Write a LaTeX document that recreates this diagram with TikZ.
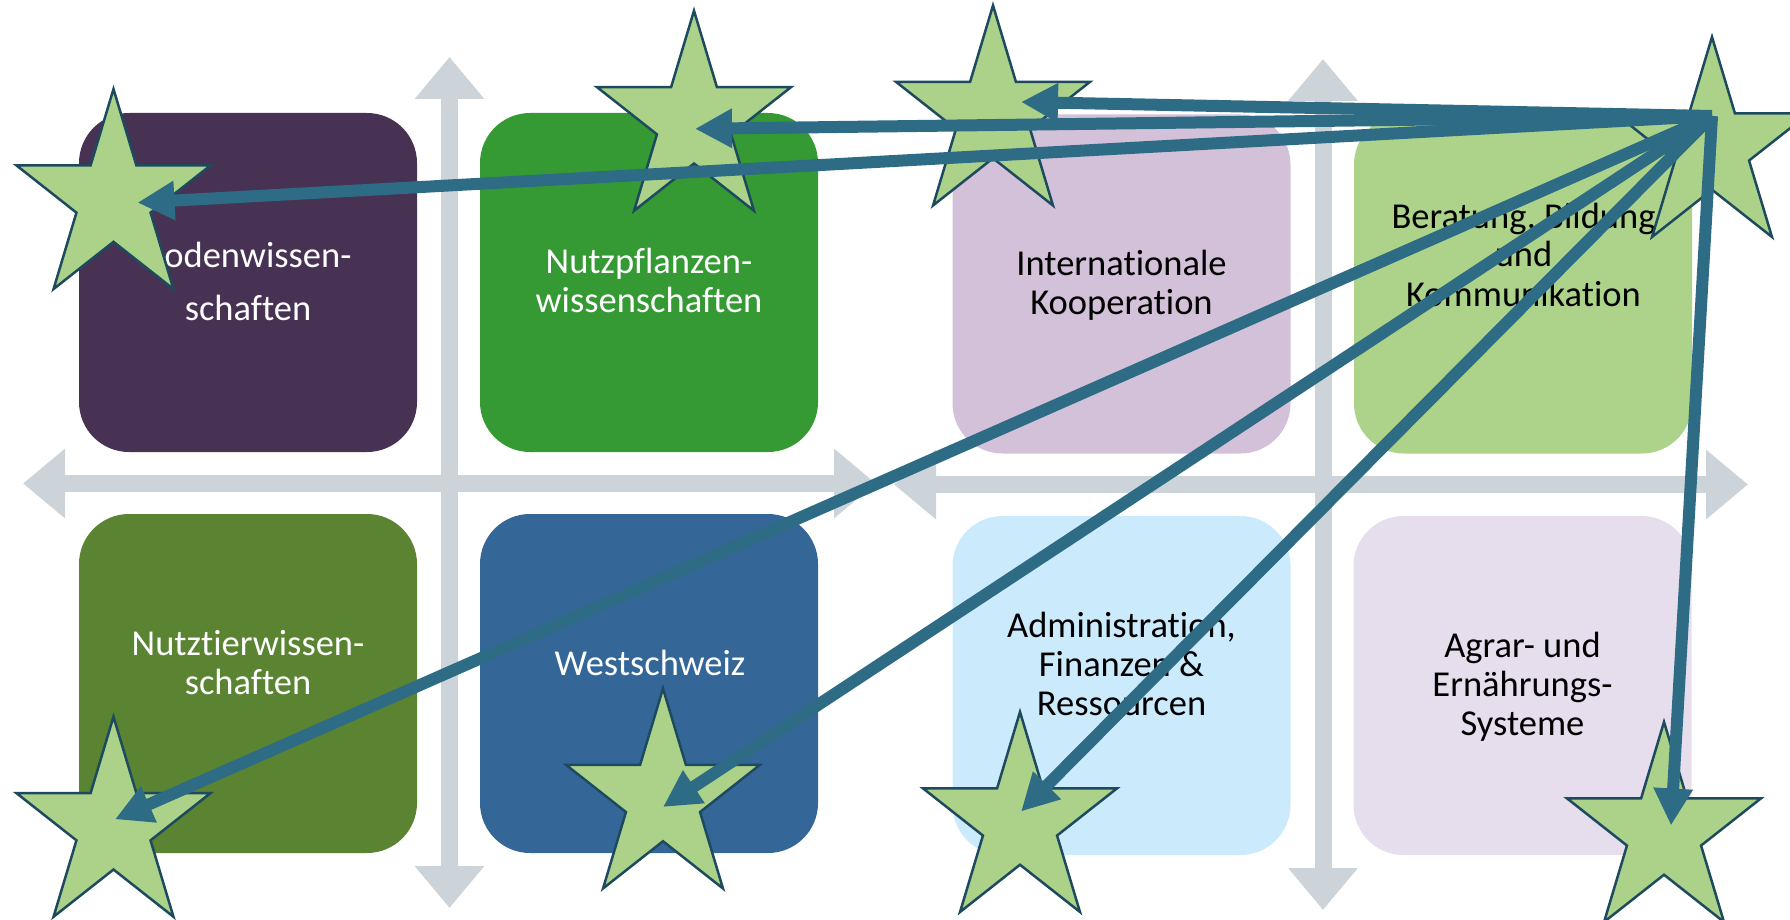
\documentclass[tikz,border=0pt]{standalone}
\usepackage{fontspec}
\setmainfont{Carlito}[Ligatures=NoCommon]
\usetikzlibrary{shapes.geometric,arrows.meta}

\definecolor{boxpurple}{HTML}{473253}
\definecolor{boxgreen}{HTML}{359A34}
\definecolor{boxlavender}{HTML}{D2C1D9}
\definecolor{boxlime}{HTML}{ADD38B}
\definecolor{boxolive}{HTML}{5A8332}
\definecolor{boxblue}{HTML}{346798}
\definecolor{boxsky}{HTML}{CBEBFD}
\definecolor{boxlilac}{HTML}{E6DEEC}
\definecolor{axisgray}{HTML}{CCD4DA}
\definecolor{linkteal}{HTML}{2E6B85}
\definecolor{starfill}{HTML}{ACD28A}
\definecolor{starline}{HTML}{1E4A60}

% multi-line label whose reference point is the first baseline
\newcommand\celltext[1]{\begin{tabular}[t]{@{}c@{}}#1\end{tabular}}

% a slightly upright-stretched five-pointed star node
\newcommand\placestar[2]{%
  \begin{scope}[shift={(#2)},yscale=1.084]
    \node[starnode,transform shape] (#1) at (0,0) {};
  \end{scope}}

\begin{document}
\begin{tikzpicture}[x=1pt,y=-1pt,
  axis/.style={draw=axisgray,line width=17pt,
    arrows={Triangle[length=42pt,width=67pt]-Triangle[length=42pt,width=67pt]}},
  field/.style={rounded corners=50pt,minimum width=338pt,minimum height=339pt,
    inner sep=0pt,draw=none},
  lbl/.style={anchor=base,inner sep=0pt,font=\fontsize{36.5}{39}\selectfont},
  starnode/.style={star,star points=5,star point ratio=2.618,minimum size=204pt,
    inner sep=0pt,fill=starfill,draw=starline,line width=2.5pt},
  link/.style={draw=linkteal,line width=12pt,
    -{Triangle[length=37pt,width=37pt]}}]
\useasboundingbox (0,0) rectangle (1790,920);
\clip (0,0) rectangle (1790,920);

% grid axes
\coordinate (v1t) at (449.5,57);   \coordinate (v1b) at (449.5,908);
\coordinate (v2t) at (1323,59);    \coordinate (v2b) at (1323,910);
\coordinate (h1l) at (23,483.5);   \coordinate (h1r) at (876,483.5);
\coordinate (h2l) at (894,484.5);  \coordinate (h2r) at (1748,484.5);
\draw[axis] (v1t) -- (v1b);
\draw[axis] (v2t) -- (v2b);
\draw[axis] (h1l) -- (h1r);
\draw[axis] (h2l) -- (h2r);

% fields
\node[field,fill=boxpurple]   (b1) at (248,282.5) {};
\node[field,fill=boxgreen]    (b2) at (649,282.5) {};
\node[field,fill=boxlavender] (b3) at (1121.5,284) {};
\node[field,fill=boxlime]     (b4) at (1523,284) {};
\node[field,fill=boxolive]    (b5) at (248,683.5) {};
\node[field,fill=boxblue]     (b6) at (649,683.5) {};
\node[field,fill=boxsky]      (b7) at (1121.5,685.5) {};
\node[field,fill=boxlilac]    (b8) at (1522.5,685.5) {};

% field names
\node[lbl,text=white] (t1) at (248,267) {\celltext{Bodenwissen-\\[14pt]schaften}};
\node[lbl,text=white] (t2) at (649,273) {\celltext{Nutzpflanzen-\\wissenschaften}};
\node[lbl]            (t3) at (1121.5,275) {\celltext{Internationale\\Kooperation}};
\node[lbl]            (t4) at (1523.5,228) {\celltext{Beratung, Bildung\\und\\Kommunikation}};
\node[lbl,text=white] (t5) at (248,655) {\celltext{Nutztierwissen-\\schaften}};
\node[lbl,text=white] (t6) at (650,675) {Westschweiz};
\node[lbl]            (t7) at (1121.5,637) {\celltext{Administration,\\Finanzen \&\\Ressourcen}};
\node[lbl]            (t8) at (1522.5,657) {\celltext{Agrar- und\\Ernährungs-\\Systeme}};

% stars
\placestar{s1}{113.5,199.6}
\placestar{s2}{694,121.3}
\placestar{s3}{993,116}
\placestar{s4}{1712,147.5}
\placestar{s5}{113.5,827.3}
\placestar{s6}{663,799}
\placestar{s7}{1020,822.5}
\placestar{s8}{1664,832.5}

% links fanning out from the upper right star
\coordinate (src) at (1712,116);
\draw[link] (src) -- ([shift={(28,-14)}]s3.center);
\draw[link] (src) -- ([shift={(1,7.5)}]s2.center);
\draw[link] (src) -- ([shift={(24,3)}]s1.center);
\draw[link] (src) -- ([shift={(1.5,-8)}]s5.center);
\draw[link] (src) -- ([shift={(0,8)}]s6.center);
\draw[link] (src) -- ([shift={(1,-11)}]s7.center);
\draw[link] (src) -- ([shift={(7,-7)}]s8.center);
\end{tikzpicture}
\end{document}
